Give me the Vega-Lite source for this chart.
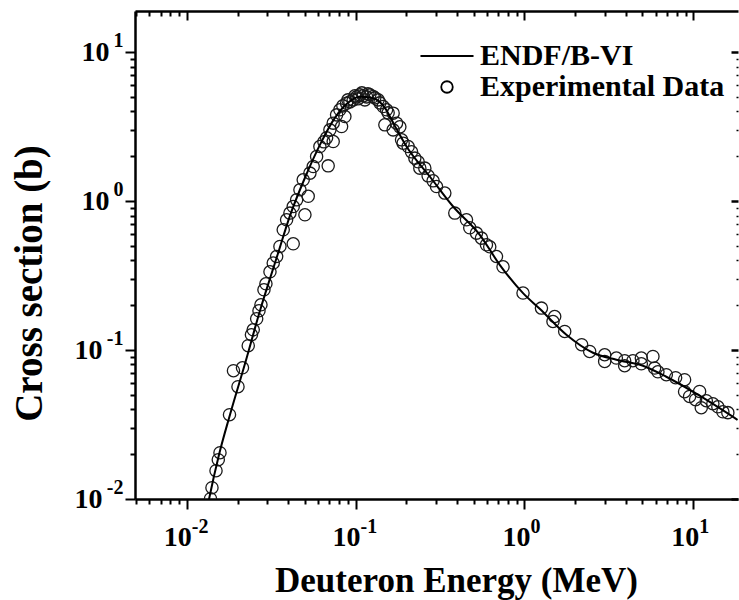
{
  "$schema": "https://vega.github.io/schema/vega-lite/v6.json",
  "autosize": {"type": "none"},
  "padding": {"left": 135, "top": 11, "right": 1, "bottom": 101},
  "width": 603,
  "height": 488,
  "background": "white",
  "config": {
    "view": {"stroke": null},
    "font": "Liberation Serif",
    "axis": {
      "labelFont": "Liberation Serif",
      "labelFontWeight": "bold",
      "labelColor": "black",
      "titleFont": "Liberation Serif",
      "titleFontWeight": "bold",
      "titleColor": "black",
      "domainColor": "black",
      "tickColor": "black",
      "grid": false,
      "labelOverlap": false,
      "labelFlush": false,
      "labelBound": false
    }
  },
  "datasets": {
    "curve": [
      {"E": 0.01283, "sigma": 0.00726},
      {"E": 0.0136, "sigma": 0.01015},
      {"E": 0.01553, "sigma": 0.01983},
      {"E": 0.01804, "sigma": 0.0368},
      {"E": 0.02213, "sigma": 0.0809},
      {"E": 0.02715, "sigma": 0.1836},
      {"E": 0.03408, "sigma": 0.4164},
      {"E": 0.04085, "sigma": 0.7966},
      {"E": 0.05012, "sigma": 1.433},
      {"E": 0.06148, "sigma": 2.387},
      {"E": 0.0754, "sigma": 3.624},
      {"E": 0.09005, "sigma": 4.568},
      {"E": 0.106, "sigma": 5.012},
      {"E": 0.1248, "sigma": 4.935},
      {"E": 0.1491, "sigma": 4.229},
      {"E": 0.1708, "sigma": 3.2},
      {"E": 0.2003, "sigma": 2.325},
      {"E": 0.2752, "sigma": 1.463},
      {"E": 0.378, "sigma": 0.92},
      {"E": 0.5439, "sigma": 0.594},
      {"E": 0.7141, "sigma": 0.3737},
      {"E": 0.9811, "sigma": 0.2413},
      {"E": 1.232, "sigma": 0.1893},
      {"E": 1.772, "sigma": 0.1267},
      {"E": 2.546, "sigma": 0.0959},
      {"E": 3.503, "sigma": 0.0861},
      {"E": 5.031, "sigma": 0.0785},
      {"E": 6.922, "sigma": 0.0662},
      {"E": 10.9, "sigma": 0.0494},
      {"E": 18.29, "sigma": 0.034}
    ],
    "exp": [
      {"E": 0.01383, "sigma": 0.01005},
      {"E": 0.01411, "sigma": 0.01191},
      {"E": 0.01491, "sigma": 0.01549},
      {"E": 0.01538, "sigma": 0.01836},
      {"E": 0.01574, "sigma": 0.02045},
      {"E": 0.01792, "sigma": 0.03679},
      {"E": 0.01892, "sigma": 0.07263},
      {"E": 0.02012, "sigma": 0.05673},
      {"E": 0.02139, "sigma": 0.07606},
      {"E": 0.02314, "sigma": 0.1069},
      {"E": 0.02417, "sigma": 0.1267},
      {"E": 0.02477, "sigma": 0.1368},
      {"E": 0.02596, "sigma": 0.1622},
      {"E": 0.02679, "sigma": 0.1836},
      {"E": 0.02752, "sigma": 0.2014},
      {"E": 0.02867, "sigma": 0.2539},
      {"E": 0.02945, "sigma": 0.2786},
      {"E": 0.03112, "sigma": 0.3353},
      {"E": 0.03254, "sigma": 0.3837},
      {"E": 0.03408, "sigma": 0.4248},
      {"E": 0.03565, "sigma": 0.4959},
      {"E": 0.03729, "sigma": 0.6418},
      {"E": 0.03905, "sigma": 0.749},
      {"E": 0.04085, "sigma": 0.8309},
      {"E": 0.04273, "sigma": 0.92},
      {"E": 0.04273, "sigma": 0.5169},
      {"E": 0.05012, "sigma": 0.8092},
      {"E": 0.04477, "sigma": 1.02},
      {"E": 0.04683, "sigma": 1.191},
      {"E": 0.04897, "sigma": 1.39},
      {"E": 0.05243, "sigma": 1.077},
      {"E": 0.05366, "sigma": 1.542},
      {"E": 0.05612, "sigma": 1.707},
      {"E": 0.06884, "sigma": 1.725},
      {"E": 0.05878, "sigma": 1.992},
      {"E": 0.06148, "sigma": 2.325},
      {"E": 0.06494, "sigma": 2.5},
      {"E": 0.06737, "sigma": 2.66},
      {"E": 0.07047, "sigma": 3.009},
      {"E": 0.0737, "sigma": 2.512},
      {"E": 0.0737, "sigma": 3.338},
      {"E": 0.07719, "sigma": 3.794},
      {"E": 0.08074, "sigma": 4.101},
      {"E": 0.08264, "sigma": 3.168},
      {"E": 0.08643, "sigma": 3.697},
      {"E": 0.08845, "sigma": 4.547},
      {"E": 0.09254, "sigma": 4.639},
      {"E": 0.09678, "sigma": 4.785},
      {"E": 0.1014, "sigma": 5.012},
      {"E": 0.106, "sigma": 5.17},
      {"E": 0.1109, "sigma": 5.091},
      {"E": 0.1162, "sigma": 5.012},
      {"E": 0.1215, "sigma": 5.17},
      {"E": 0.1271, "sigma": 5.035},
      {"E": 0.136, "sigma": 4.785},
      {"E": 0.1457, "sigma": 4.314},
      {"E": 0.1526, "sigma": 4.101},
      {"E": 0.1559, "sigma": 3.913},
      {"E": 0.1669, "sigma": 3.896},
      {"E": 0.1748, "sigma": 3.338},
      {"E": 0.1491, "sigma": 3.252},
      {"E": 0.1669, "sigma": 3.009},
      {"E": 0.1829, "sigma": 3.153},
      {"E": 0.1872, "sigma": 2.579},
      {"E": 0.1913, "sigma": 2.45},
      {"E": 0.2048, "sigma": 2.325},
      {"E": 0.2145, "sigma": 2.142},
      {"E": 0.2244, "sigma": 1.944},
      {"E": 0.2347, "sigma": 1.836},
      {"E": 0.2402, "sigma": 1.665},
      {"E": 0.2571, "sigma": 1.665},
      {"E": 0.2689, "sigma": 1.478},
      {"E": 0.2878, "sigma": 1.368},
      {"E": 0.3015, "sigma": 1.253},
      {"E": 0.3377, "sigma": 1.132},
      {"E": 0.3869, "sigma": 0.8309},
      {"E": 0.4537, "sigma": 0.749},
      {"E": 0.4745, "sigma": 0.6619},
      {"E": 0.52, "sigma": 0.6098},
      {"E": 0.5566, "sigma": 0.5644},
      {"E": 0.5957, "sigma": 0.509},
      {"E": 0.6231, "sigma": 0.4935},
      {"E": 0.6829, "sigma": 0.4248},
      {"E": 0.7469, "sigma": 0.3623},
      {"E": 0.9811, "sigma": 0.2413},
      {"E": 1.261, "sigma": 0.1913},
      {"E": 1.511, "sigma": 0.168},
      {"E": 1.476, "sigma": 0.1555},
      {"E": 1.732, "sigma": 0.1333},
      {"E": 2.183, "sigma": 0.1086},
      {"E": 2.434, "sigma": 0.0979},
      {"E": 2.987, "sigma": 0.093},
      {"E": 2.987, "sigma": 0.0839},
      {"E": 3.503, "sigma": 0.0884},
      {"E": 3.922, "sigma": 0.0848},
      {"E": 3.922, "sigma": 0.0785},
      {"E": 4.391, "sigma": 0.0848},
      {"E": 4.924, "sigma": 0.0884},
      {"E": 4.924, "sigma": 0.0809},
      {"E": 5.768, "sigma": 0.0906},
      {"E": 5.902, "sigma": 0.0757},
      {"E": 6.173, "sigma": 0.0715},
      {"E": 6.922, "sigma": 0.0683},
      {"E": 7.859, "sigma": 0.0652},
      {"E": 8.882, "sigma": 0.0632},
      {"E": 8.882, "sigma": 0.0525},
      {"E": 9.508, "sigma": 0.0488},
      {"E": 10.9, "sigma": 0.0527},
      {"E": 10.32, "sigma": 0.0464},
      {"E": 11.15, "sigma": 0.041},
      {"E": 11.94, "sigma": 0.0457},
      {"E": 13.06, "sigma": 0.0436},
      {"E": 13.98, "sigma": 0.0416},
      {"E": 14.97, "sigma": 0.0385},
      {"E": 16.02, "sigma": 0.038},
      {"E": 0.0841, "sigma": 4.361},
      {"E": 0.0901, "sigma": 4.785},
      {"E": 0.0991, "sigma": 5.091},
      {"E": 0.1032, "sigma": 4.86},
      {"E": 0.109, "sigma": 5.332},
      {"E": 0.1135, "sigma": 4.785},
      {"E": 0.1183, "sigma": 5.25},
      {"E": 0.13, "sigma": 4.935},
      {"E": 0.1392, "sigma": 4.568}
    ]
  },
  "layer": [
    {
      "data": {"name": "exp"},
      "mark": {"type": "point", "filled": false, "size": 150, "strokeWidth": 1.3, "color": "#1a1a1a", "opacity": 1, "clip": true},
      "encoding": {
        "x": {
          "field": "E", "type": "quantitative",
          "scale": {"type": "log", "domain": [0.00494, 18.4], "nice": false},
          "axis": {
            "orient": "top", "title": null, "labels": false,
            "values": [0.005,0.006,0.007,0.008,0.009,0.01,0.02,0.03,0.04,0.05,0.06,0.07,0.08,0.09,0.1,0.2,0.3,0.4,0.5,0.6,0.7,0.8,0.9,1,2,3,4,5,6,7,8,9,10],
            "domainWidth": 2.5,
            "tickWidth": 2,
            "tickSize": {"condition": {"test": "datum.value == 0.01 || datum.value == 0.1 || datum.value == 1 || datum.value == 10", "value": -9}, "value": -5}
          }
        },
        "y": {
          "field": "sigma", "type": "quantitative",
          "scale": {"type": "log", "domain": [0.01, 18.9], "nice": false},
          "axis": {
            "orient": "right", "title": null, "labels": false, "domain": false,
            "values": [0.01,0.02,0.03,0.04,0.05,0.06,0.07,0.08,0.09,0.1,0.2,0.3,0.4,0.5,0.6,0.7,0.8,0.9,1,2,3,4,5,6,7,8,9,10],
            "tickWidth": {"condition": {"test": "datum.value == 0.01 || datum.value == 0.1 || datum.value == 1 || datum.value == 10", "value": 2.5}, "value": 1.5},
            "tickSize": {"condition": {"test": "datum.value == 0.01 || datum.value == 0.1 || datum.value == 1 || datum.value == 10", "value": -7}, "value": -2}
          }
        },
        "shape": {
          "datum": "Experimental Data",
          "scale": {"domain": ["ENDF/B-VI", "Experimental Data"], "range": ["M-4.6,0L4.6,0", "circle"]},
          "legend": {
            "orient": "none", "legendX": 297, "legendY": 30, "title": null,
            "labelFont": "Liberation Serif", "labelFontSize": 30, "labelFontWeight": "bold", "labelColor": "black",
            "symbolSize": 133, "symbolStrokeWidth": 1.8, "symbolStrokeColor": "black", "symbolFillColor": "transparent", "symbolOpacity": 1,
            "labelOffset": 18, "rowPadding": 1, "padding": 0, "labelLimit": 400
          }
        }
      }
    },
    {
      "data": {"name": "curve"},
      "mark": {"type": "line", "color": "black", "strokeWidth": 2, "clip": true, "interpolate": "monotone"},
      "encoding": {
        "x": {
          "field": "E", "type": "quantitative",
          "axis": {
            "orient": "bottom",
            "title": "Deuteron Energy (MeV)",
            "titleFontSize": 35, "titleX": 321, "titleY": 92, "titleAlign": "center", "titleBaseline": "alphabetic",
            "values": [0.005,0.006,0.007,0.008,0.009,0.01,0.02,0.03,0.04,0.05,0.06,0.07,0.08,0.09,0.1,0.2,0.3,0.4,0.5,0.6,0.7,0.8,0.9,1,2,3,4,5,6,7,8,9,10],
            "labelExpr": "(datum.value == 0.01 || datum.value == 0.1 || datum.value == 1 || datum.value == 10) ? '10' : ''",
            "labelFontSize": 28, "labelBaseline": "alphabetic", "labelPadding": 36,
            "labelOffset": {"condition": {"test": "datum.value < 0.5", "value": -9.5}, "value": -8.5},
            "domainWidth": 2.5, "tickWidth": 2,
            "tickSize": {"condition": {"test": "datum.value == 0.01 || datum.value == 0.1 || datum.value == 1 || datum.value == 10", "value": 10}, "value": 5}
          }
        },
        "y": {
          "field": "sigma", "type": "quantitative",
          "axis": {
            "orient": "left",
            "title": "Cross section (b)",
            "titleFontSize": 39, "titleX": -106, "titleY": 272, "titleAlign": "center", "titleBaseline": "middle", "titleAngle": -90,
            "values": [0.01,0.02,0.03,0.04,0.05,0.06,0.07,0.08,0.09,0.1,0.2,0.3,0.4,0.5,0.6,0.7,0.8,0.9,1,2,3,4,5,6,7,8,9,10],
            "labelExpr": "(datum.value == 0.01 || datum.value == 0.1 || datum.value == 1 || datum.value == 10) ? '10' : ''",
            "labelFontSize": 28, "labelBaseline": "middle", "labelAlign": "right",
            "labelPadding": {"condition": {"test": "datum.value < 0.5", "value": 23}, "value": 16},
            "domainWidth": 2.5, "tickWidth": 2,
            "tickSize": {"condition": {"test": "datum.value == 0.01 || datum.value == 0.1 || datum.value == 1 || datum.value == 10", "value": 10}, "value": 5}
          }
        }
      }
    },
    {
      "data": {"name": "curve"},
      "mark": {"type": "point", "opacity": 0, "clip": true},
      "encoding": {
        "x": {
          "field": "E", "type": "quantitative",
          "axis": {
            "orient": "bottom", "title": null, "domain": false,
            "values": [0.01, 0.1, 1, 10],
            "labelExpr": "datum.value == 0.01 ? '-2' : datum.value == 0.1 ? '-1' : datum.value == 1 ? '0' : '1'",
            "labelFontSize": 20, "labelBaseline": "alphabetic", "labelAlign": "left", "labelPadding": 23,
            "labelOffset": {"condition": {"test": "datum.value < 0.5", "value": 4.5}, "value": 5.5},
            "tickColor": "transparent", "tickSize": 10
          }
        },
        "y": {
          "field": "sigma", "type": "quantitative",
          "axis": {
            "orient": "left", "title": null, "domain": false,
            "values": [0.01, 0.1, 1, 10],
            "labelExpr": "datum.value == 0.01 ? '-2' : datum.value == 0.1 ? '-1' : datum.value == 1 ? '0' : '1'",
            "labelFontSize": 20, "labelBaseline": "middle", "labelAlign": "right", "labelPadding": 2, "labelOffset": -12,
            "tickColor": "transparent", "tickSize": 10
          }
        }
      }
    }
  ],
  "resolve": {"axis": {"x": "independent", "y": "independent"}}
}
